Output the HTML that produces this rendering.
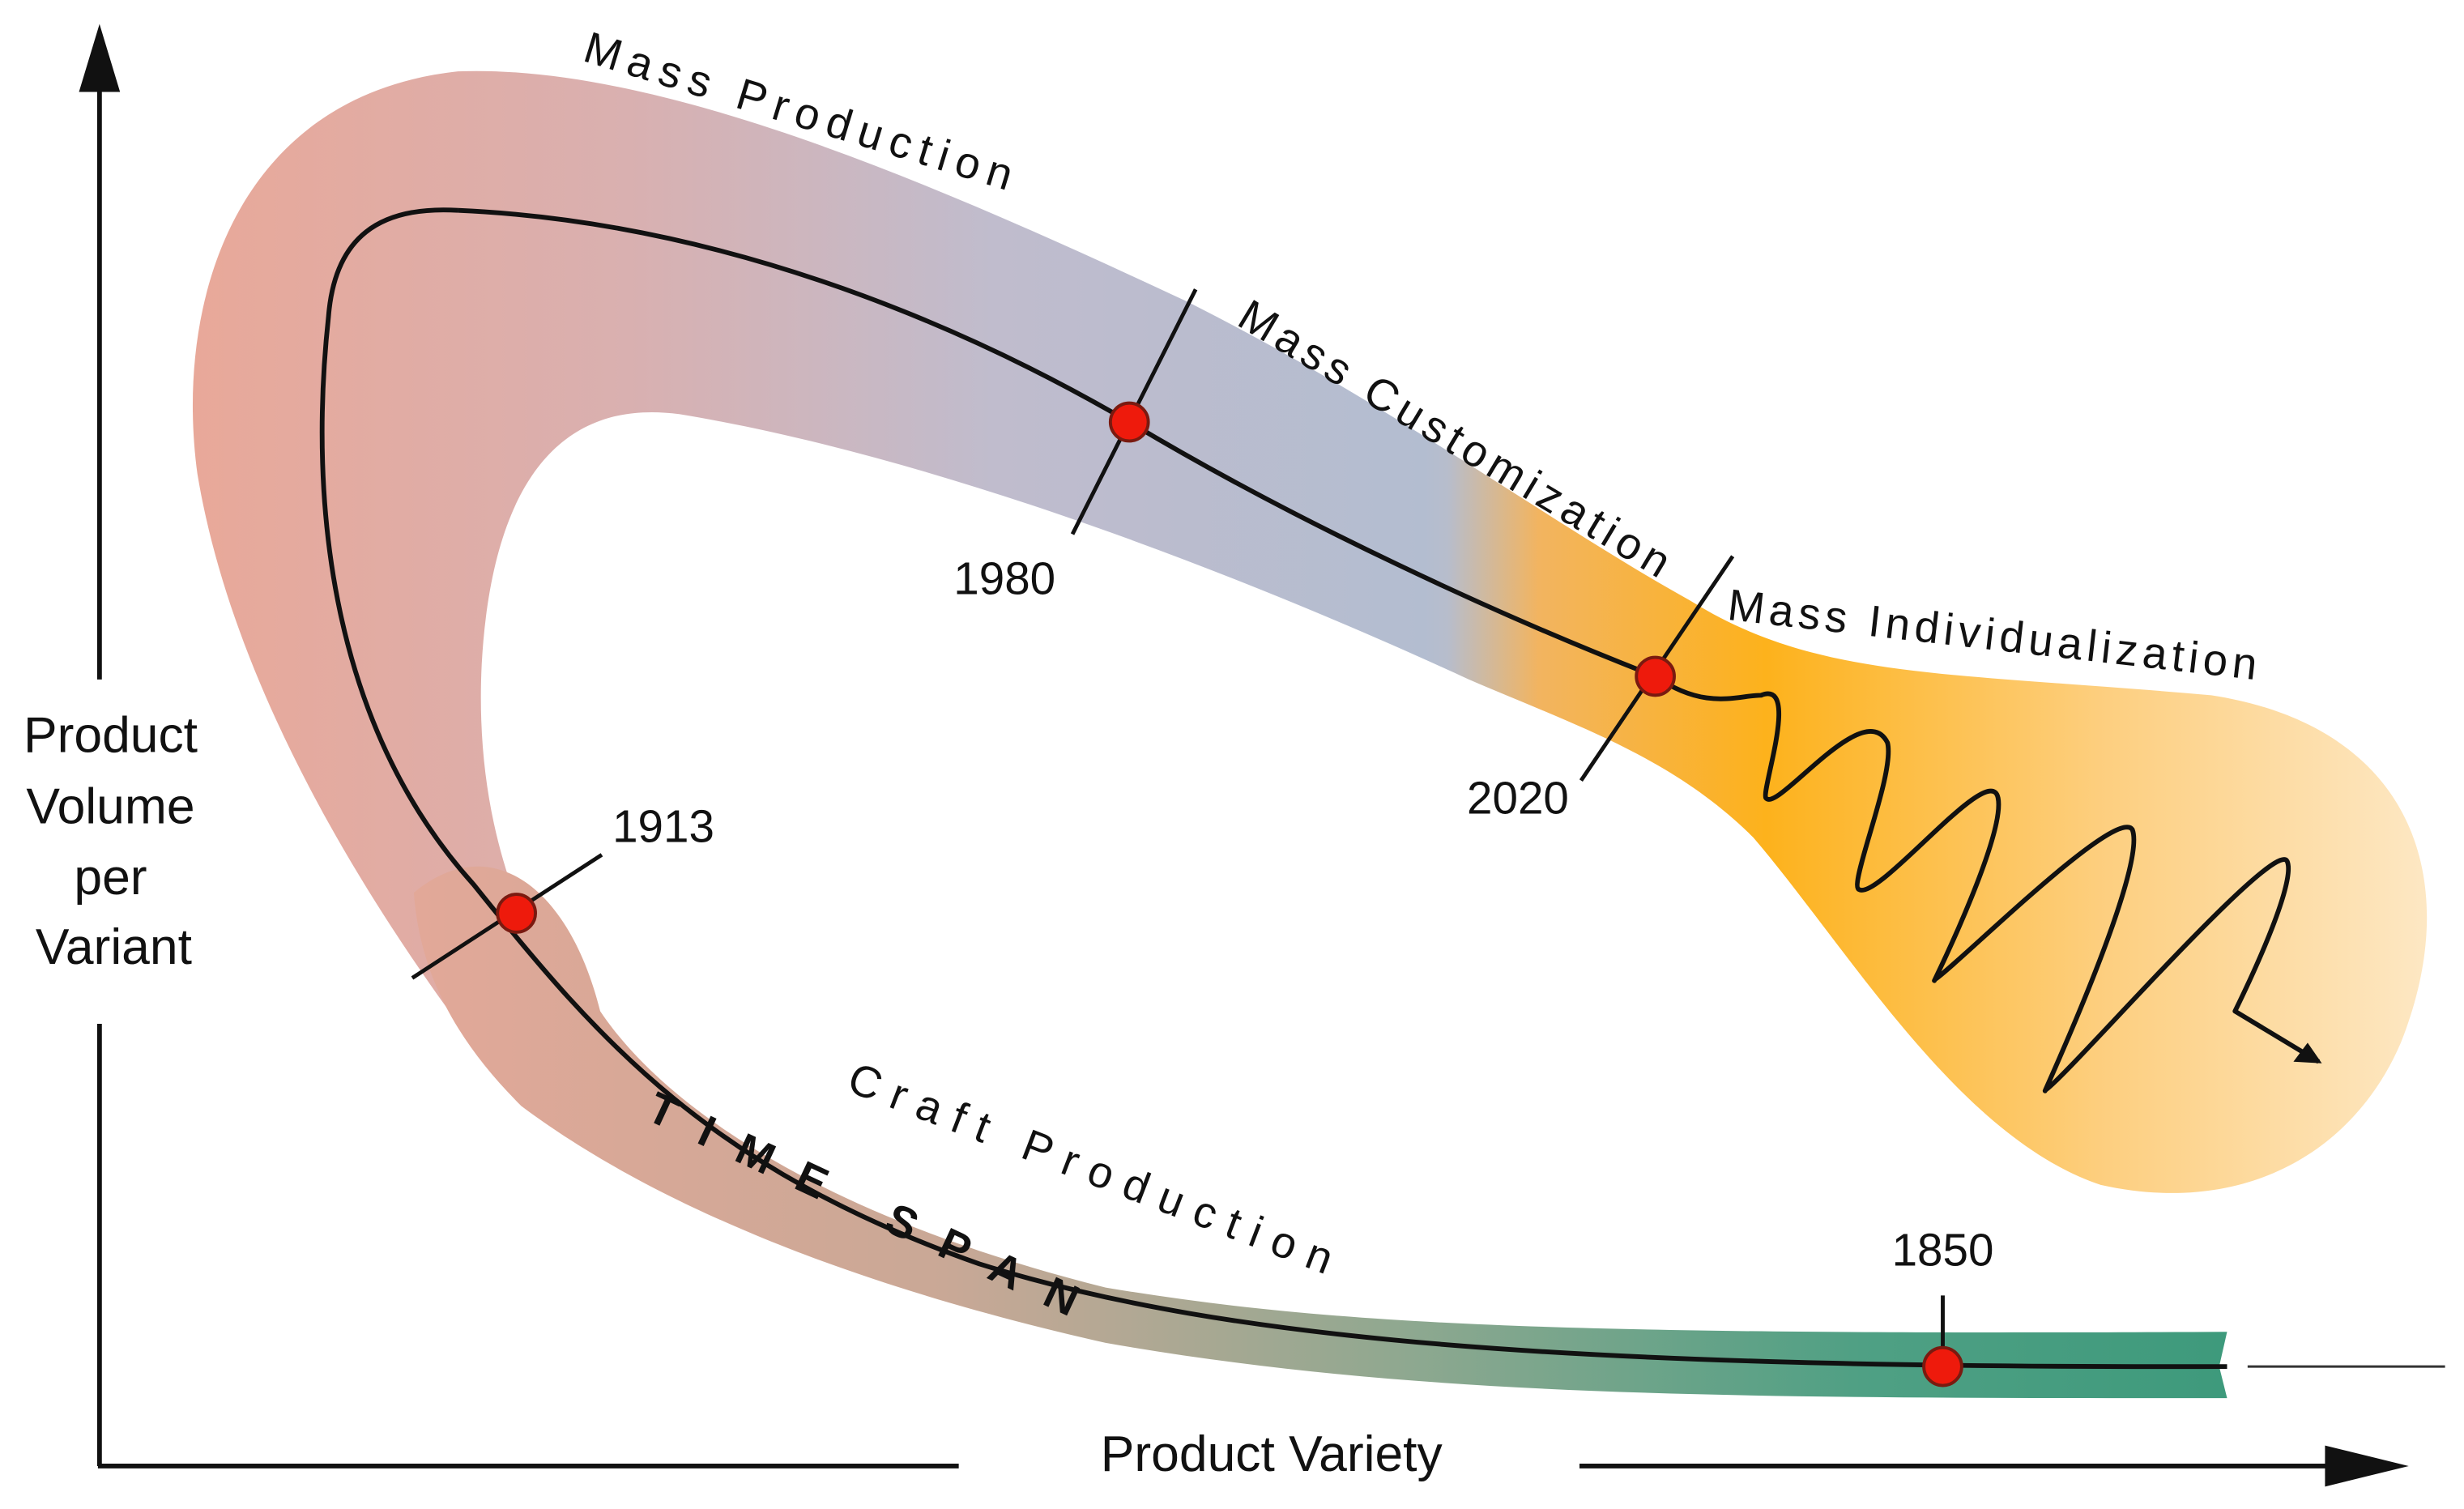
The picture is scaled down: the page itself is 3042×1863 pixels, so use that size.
<!DOCTYPE html>
<html><head><meta charset="utf-8"><style>
html,body{margin:0;padding:0;background:#fff;}
svg{display:block;}
text{font-family:"Liberation Sans",sans-serif;fill:#111;}
</style></head><body>
<svg width="3042" height="1863" viewBox="0 0 1560 955">
<defs>
<linearGradient id="gUp" gradientUnits="userSpaceOnUse" x1="110" y1="0" x2="1550" y2="0">
<stop offset="0" stop-color="#e9a898"/>
<stop offset="0.2" stop-color="#d9b0b0"/>
<stop offset="0.36" stop-color="#c0bccd"/>
<stop offset="0.55" stop-color="#b3bdd0"/>
<stop offset="0.56" stop-color="#b7bdcc"/>
<stop offset="0.6" stop-color="#f2b460"/>
<stop offset="0.7" stop-color="#fdb21c"/>
<stop offset="0.85" stop-color="#fdcf80"/>
<stop offset="1" stop-color="#fde9c8"/>
</linearGradient>
<linearGradient id="gLow" gradientUnits="userSpaceOnUse" x1="250" y1="0" x2="1410" y2="0">
<stop offset="0" stop-color="#e3a898"/>
<stop offset="0.3" stop-color="#c9a896"/>
<stop offset="0.55" stop-color="#8fa890"/>
<stop offset="0.8" stop-color="#4fa084"/>
<stop offset="1" stop-color="#3e9a7c"/>
</linearGradient>
</defs>

<path fill="url(#gUp)" d="M125,300 C110,190 150,60 290,45 C420,40 600,120 750,190 C880,255 980,330 1070,380 C1150,430 1230,425 1400,440 C1530,460 1560,560 1520,660 C1490,730 1420,770 1330,750 C1240,720 1170,600 1110,530 C1060,480 1000,460 930,430 C800,370 600,290 430,262 C340,250 310,330 305,420 C300,520 330,600 380,660 L330,700 C250,600 150,450 125,300 Z"/>
<path fill="url(#gLow)" d="M262,565 C310,525 360,560 380,640 C420,700 520,770 700,815 C850,840 1000,845 1410,843 L1405,865 L1410,885 C1100,885 900,885 700,850 C500,805 390,745 330,700 C292,662 266,620 262,565 Z"/>

<g stroke="#111" stroke-width="3" fill="none">
<line x1="62" y1="928" x2="607" y2="928"/>
<line x1="1000" y1="928" x2="1480" y2="928"/>
</g>
<polygon points="1472,915 1525,928 1472,941" fill="#111"/>
<g stroke="#111" stroke-width="3">
<line x1="63" y1="928" x2="63" y2="648"/>
<line x1="63" y1="430" x2="63" y2="50"/>
</g>
<polygon points="50,58 63,15 76,58" fill="#111"/>
<line x1="1423" y1="865" x2="1548" y2="865" stroke="#333" stroke-width="1.5"/>

<path fill="none" stroke="#111" stroke-width="3" d="M290,133 C240,130 212,150 208,200 C195,320 210,460 300,560 C380,660 450,740 620,800 C780,850 1000,866 1410,865"/>
<path fill="none" stroke="#111" stroke-width="3" d="M290,133 C450,140 600,200 715,267 C820,330 950,390 1048,428"/>
<path fill="none" stroke="#111" stroke-width="3" stroke-linejoin="round" d="M1048,428 C1080,450 1100,440 1115,440 C1140,430 1115,500 1118,505 C1125,515 1180,440 1195,470 C1200,490 1170,560 1177,563 C1190,570 1260,480 1265,505 C1270,530 1220,630 1225,620 C1240,610 1340,510 1350,525 C1360,550 1290,700 1295,690 C1310,680 1440,530 1448,545 C1455,560 1415,640 1415,640 L1468,672"/>
<polygon points="1470,673 1452,672 1461,660" fill="#111"/>

<g stroke="#111" stroke-width="2.5">
<line x1="757" y1="183" x2="679" y2="338"/>
<line x1="1097" y1="352" x2="1001" y2="494"/>
<line x1="381" y1="541" x2="261" y2="619"/>
<line x1="1230" y1="820" x2="1230" y2="865"/>
</g>
<g fill="#ee1a0c" stroke="#7a1a10" stroke-width="2">
<circle cx="715" cy="267" r="12"/>
<circle cx="1048" cy="428" r="12"/>
<circle cx="327" cy="578" r="12"/>
<circle cx="1230" cy="865" r="12"/>
</g>

<g font-size="29">
<text x="636" y="376" text-anchor="middle">1980</text>
<text x="961" y="515" text-anchor="middle">2020</text>
<text x="420" y="533" text-anchor="middle">1913</text>
<text x="1230" y="801" text-anchor="middle">1850</text>
</g>

<g font-size="28">
<text transform="translate(368,38) rotate(17)" textLength="285" letter-spacing="3">Mass Production</text>
<text transform="translate(782,205) rotate(31)" textLength="315" letter-spacing="2">Mass Customization</text>
<text transform="translate(1093,392) rotate(6.5)" textLength="338" letter-spacing="1">Mass Individualization</text>
<text transform="translate(535,690) rotate(21)" textLength="330" letter-spacing="4">Craft Production</text>
<text transform="translate(408,708) rotate(25)" textLength="305" letter-spacing="8" style="font-weight:bold">TIME SPAN</text>
</g>

<g font-size="32" text-anchor="middle">
<text x="70" y="476">Product</text>
<text x="70" y="521">Volume</text>
<text x="70" y="566">per</text>
<text x="72" y="610">Variant</text>
</g>
<text x="805" y="931" font-size="32" text-anchor="middle">Product Variety</text>
</svg>
</body></html>
